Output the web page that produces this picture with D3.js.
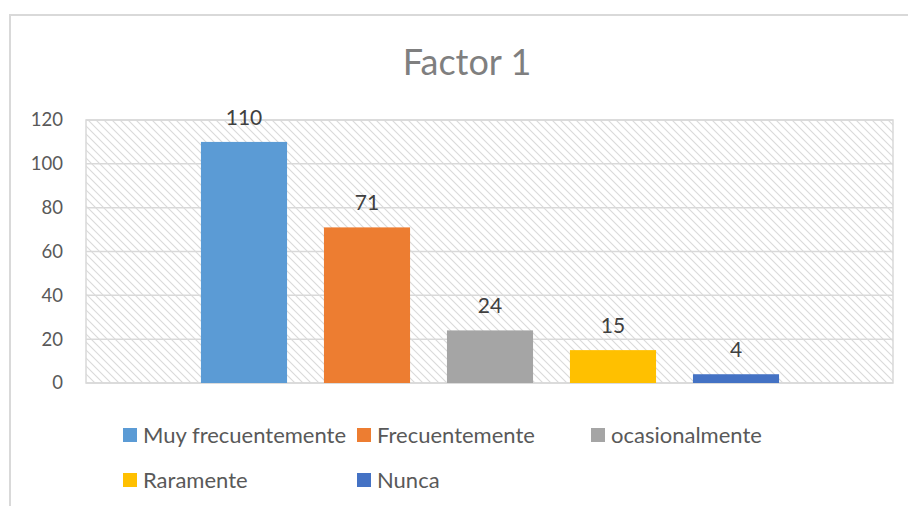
<!DOCTYPE html>
<html>
<head>
<meta charset="utf-8">
<script src="https://cdn.jsdelivr.net/npm/d3@7"></script>
<style>
  body { margin: 0; background: #fff; }
  text { font-family: Lato, "Open Sans", sans-serif; }
</style>
</head>
<body>
<div id="chart"></div>
<script>
// data
var categories = ["Muy frecuentemente", "Frecuentemente", "ocasionalmente", "Raramente", "Nunca"];
var values = [110, 71, 24, 15, 4];
var colors = ["#5B9BD5", "#ED7D31", "#A5A5A5", "#FFC000", "#4472C4"];
var yTicks = [0, 20, 40, 60, 80, 100, 120];
var title = "Factor 1";

var W = 908, H = 506;
var plot = {left: 86, right: 893, top: 120, bottom: 383};

var svg = d3.select("#chart").append("svg")
    .attr("width", W)
    .attr("height", H);

// hatch pattern for the plot area
var defs = svg.append("defs");
var pat = defs.append("pattern")
    .attr("id", "hatch")
    .attr("patternUnits", "userSpaceOnUse")
    .attr("width", 8).attr("height", 8);
pat.append("rect").attr("width", 8).attr("height", 8).style("fill", "#fff");
pat.append("path")
    .attr("d", "M-2,-2 L10,10 M-2,6 L2,10 M6,-2 L10,2")
    .style("stroke", "#dadada")
    .style("stroke-width", 1.1);

// outer chart frame (only top/left visible)
svg.append("rect")
    .attr("x", 10).attr("y", 15)
    .attr("width", 1000).attr("height", 600)
    .style("fill", "none")
    .style("stroke", "#d9d9d9")
    .style("stroke-width", 2);

svg.append("text")
    .attr("x", 467).attr("y", 75)
    .attr("text-anchor", "middle")
    .style("font-size", "36px")
    .style("fill", "#7f7f7f")
    .text(title);

var y = d3.scaleLinear().domain([0, 120]).range([plot.bottom, plot.top]);
var x = d3.scaleBand().domain(categories)
    .range([182.5, 797.5])
    .paddingInner(0.3)
    .paddingOuter(0.15);

// plot area background
svg.append("rect")
    .attr("x", plot.left).attr("y", plot.top)
    .attr("width", plot.right - plot.left)
    .attr("height", plot.bottom - plot.top)
    .style("fill", "url(#hatch)")
    .style("stroke", "#d9d9d9")
    .style("stroke-width", 1.5);

// gridlines
svg.append("g").selectAll("line")
    .data(yTicks)
    .enter().append("line")
    .attr("x1", plot.left).attr("x2", plot.right)
    .attr("y1", function(d) { return y(d); })
    .attr("y2", function(d) { return y(d); })
    .style("stroke", "#d9d9d9")
    .style("stroke-width", 1.5);

// y axis labels
var yAxis = d3.axisLeft(y).tickValues(yTicks).tickSize(0).tickPadding(23);
var ya = svg.append("g")
    .attr("transform", "translate(" + plot.left + ",0)")
    .call(yAxis);
ya.select(".domain").remove();
ya.selectAll("text")
    .style("font-size", "18.5px")
    .style("fill", "#595959")
    .style("font-family", "Lato, sans-serif");

// bars
var data = categories.map(function(c, i) { return {name: c, value: values[i], color: colors[i]}; });

svg.append("g").selectAll("rect")
    .data(data)
    .enter().append("rect")
    .attr("x", function(d) { return x(d.name); })
    .attr("y", function(d) { return y(d.value); })
    .attr("width", x.bandwidth())
    .attr("height", function(d) { return y(0) - y(d.value); })
    .style("fill", function(d) { return d.color; });

svg.append("g").selectAll("text")
    .data(data)
    .enter().append("text")
    .attr("x", function(d) { return x(d.name) + x.bandwidth() / 2; })
    .attr("y", function(d) { return y(d.value) - 17; })
    .attr("text-anchor", "middle")
    .style("font-size", "21px")
    .style("fill", "#404040")
    .text(function(d) { return d.value; });

// legend
var legPos = [[123, 435], [357, 435], [591, 435], [123, 480], [357, 480]];
var leg = svg.append("g").selectAll("g")
    .data(data)
    .enter().append("g")
    .attr("transform", function(d, i) { return "translate(" + legPos[i][0] + "," + legPos[i][1] + ")"; });
leg.append("rect")
    .attr("x", 0).attr("y", -7)
    .attr("width", 14).attr("height", 14)
    .style("fill", function(d) { return d.color; });
leg.append("text")
    .attr("x", 20).attr("y", 0)
    .attr("dy", "0.36em")
    .style("font-size", "22px")
    .style("fill", "#595959")
    .text(function(d) { return d.name; });
</script>
</body>
</html>
